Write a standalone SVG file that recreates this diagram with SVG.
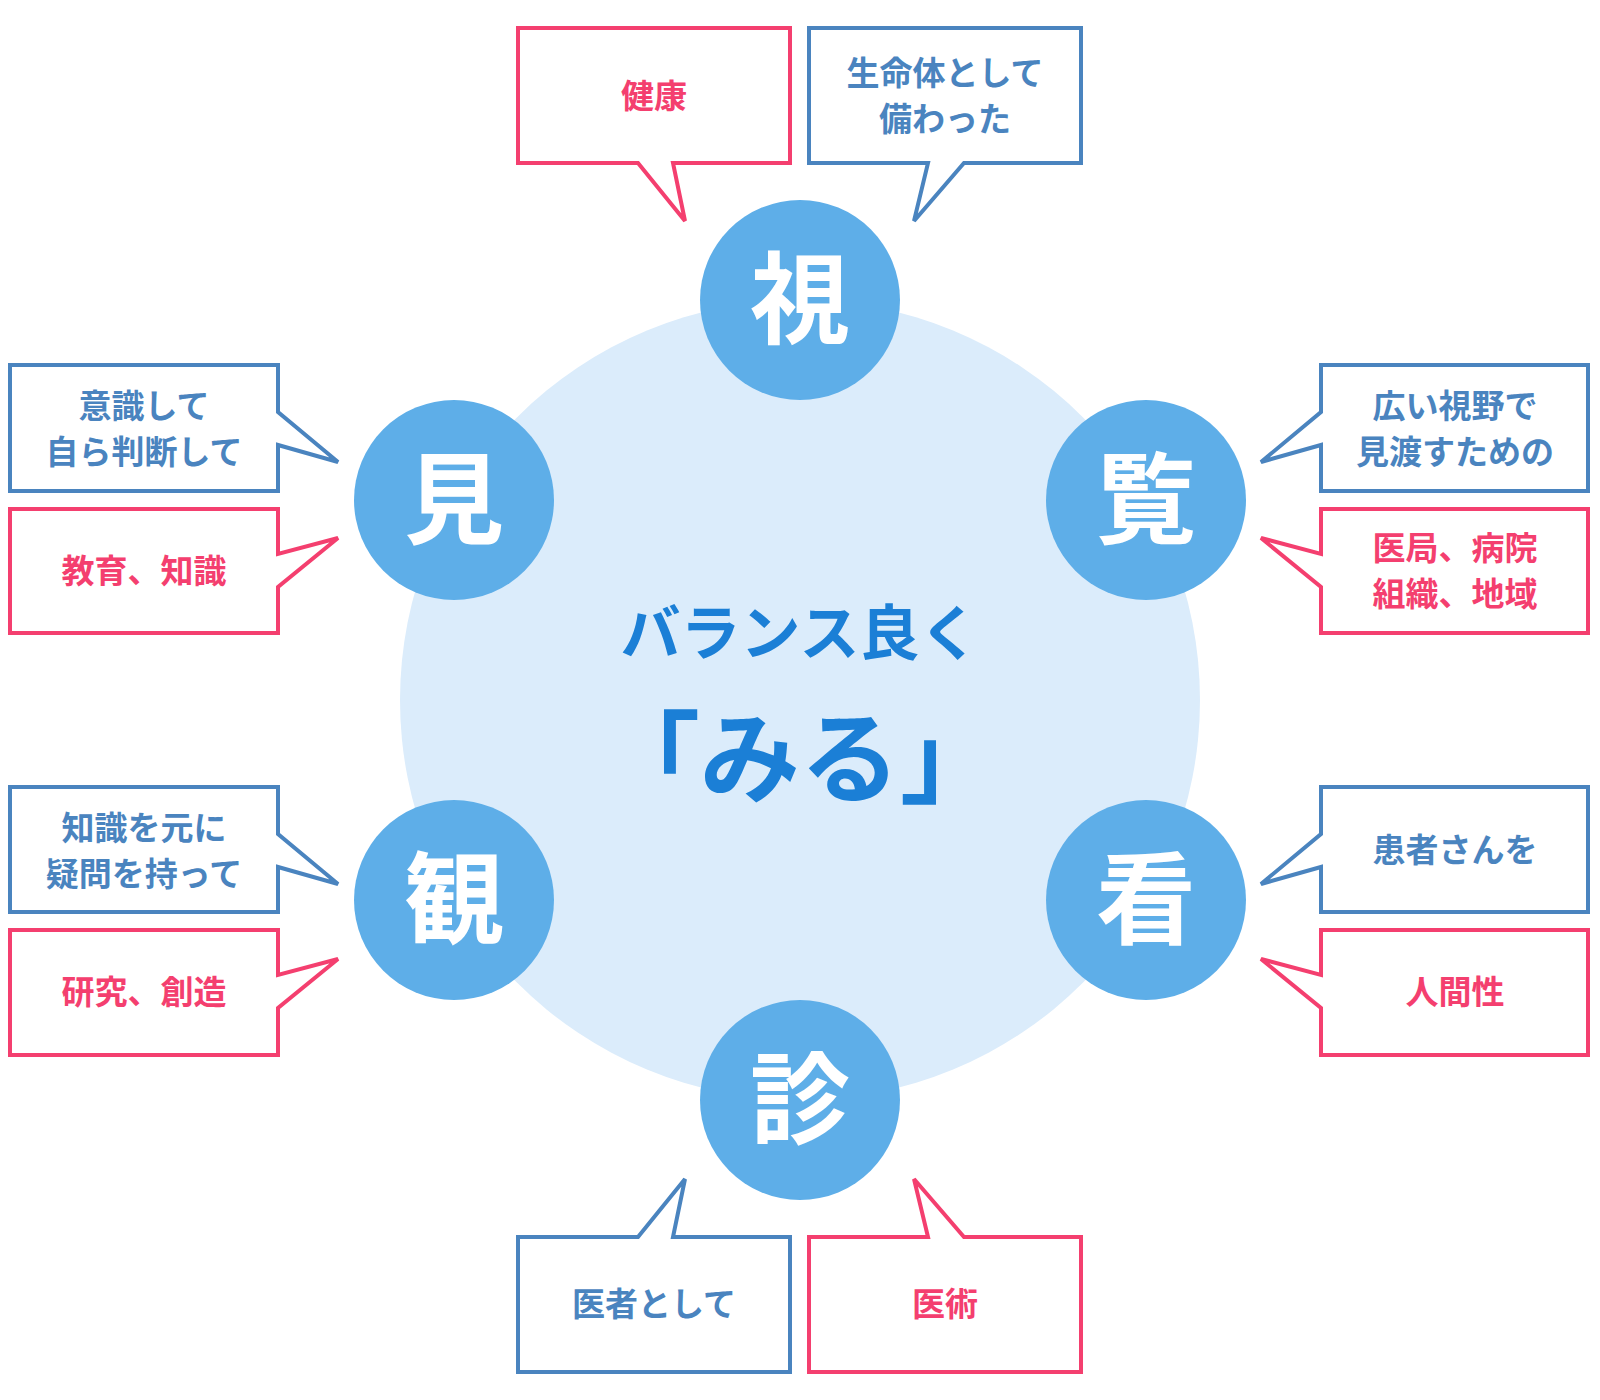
<svg xmlns="http://www.w3.org/2000/svg" width="1600" height="1400" viewBox="0 0 1600 1400">
<style>
.bp{fill:#fff;stroke:#4a84bf;stroke-width:4}
.pp{fill:#fff;stroke:#f43f6f;stroke-width:4}
.bt{fill:#4a84bf;font:bold 33px "Noto Sans CJK JP",sans-serif;text-anchor:middle}
.pt{fill:#f43f6f;font:bold 33px "Noto Sans CJK JP",sans-serif;text-anchor:middle}
.k{fill:#5eaee8}
.kt{fill:#fff;font:bold 100px "Noto Sans CJK JP",sans-serif;text-anchor:middle}
</style>
<circle cx="800" cy="700" r="400" fill="#dbecfb"/>
<text x="800" y="655" fill="#1b7fd6" text-anchor="middle" font-family="Noto Sans CJK JP,sans-serif" font-weight="bold" font-size="60">バランス良く</text>
<text x="800" y="795" fill="#1b7fd6" text-anchor="middle" font-family="Noto Sans CJK JP,sans-serif" font-weight="bold" font-size="100">「みる」</text>
<g id="connectors">
<path class="pp" d="M518,28H790V163H673L685,221L638,163H518Z"/>
<path class="bp" d="M809,28H1081V163H964L914,221L928,163H809Z"/>
<path class="bp" d="M10,365H278V412L338,462L278,445V491H10Z"/>
<path class="pp" d="M10,509H278V554L338,538L278,587V633H10Z"/>
<path class="bp" d="M10,787H278V834L338,884L278,867V912H10Z"/>
<path class="pp" d="M10,930H278V975L338,959L278,1008V1055H10Z"/>
<path class="bp" d="M1588,365H1321V412L1261,462L1321,445V491H1588Z"/>
<path class="pp" d="M1588,509H1321V554L1261,538L1321,587V633H1588Z"/>
<path class="bp" d="M1588,787H1321V834L1261,884L1321,867V912H1588Z"/>
<path class="pp" d="M1588,930H1321V975L1261,959L1321,1008V1055H1588Z"/>
<path class="bp" d="M518,1372H790V1237H673L685,1179L638,1237H518Z"/>
<path class="pp" d="M809,1372H1081V1237H964L914,1179L928,1237H809Z"/>
</g>
<g id="l1"><text class="pt" x="654" y="108">健康</text></g>
<g id="l2"><text class="bt" x="945" y="85">生命体として</text><text class="bt" x="945" y="131">備わった</text></g>
<g id="l3"><text class="bt" x="144" y="418">意識して</text><text class="bt" x="144" y="464">自ら判断して</text></g>
<g id="l4"><text class="pt" x="144" y="583">教育、知識</text></g>
<g id="l5"><text class="bt" x="144" y="840">知識を元に</text><text class="bt" x="144" y="886">疑問を持って</text></g>
<g id="l6"><text class="pt" x="144" y="1004">研究、創造</text></g>
<g id="l7"><text class="bt" x="1455" y="418">広い視野で</text><text class="bt" x="1455" y="464">見渡すための</text></g>
<g id="l8"><text class="pt" x="1455" y="560">医局、病院</text><text class="pt" x="1455" y="606">組織、地域</text></g>
<g id="l9"><text class="bt" x="1455" y="862">患者さんを</text></g>
<g id="l10"><text class="pt" x="1455" y="1004">人間性</text></g>
<g id="l11"><text class="bt" x="654" y="1316">医者として</text></g>
<g id="l12"><text class="pt" x="945" y="1316">医術</text></g>
<g id="n1"><circle class="k" cx="800" cy="300" r="100"/><text class="kt" x="800" y="336">視</text></g>
<g id="n2"><circle class="k" cx="1146" cy="500" r="100"/><text class="kt" x="1146" y="536">覧</text></g>
<g id="n3"><circle class="k" cx="1146" cy="900" r="100"/><text class="kt" x="1146" y="936">看</text></g>
<g id="n4"><circle class="k" cx="800" cy="1100" r="100"/><text class="kt" x="800" y="1136">診</text></g>
<g id="n5"><circle class="k" cx="454" cy="900" r="100"/><text class="kt" x="454" y="936">観</text></g>
<g id="n6"><circle class="k" cx="454" cy="500" r="100"/><text class="kt" x="454" y="536">見</text></g>
</svg>
